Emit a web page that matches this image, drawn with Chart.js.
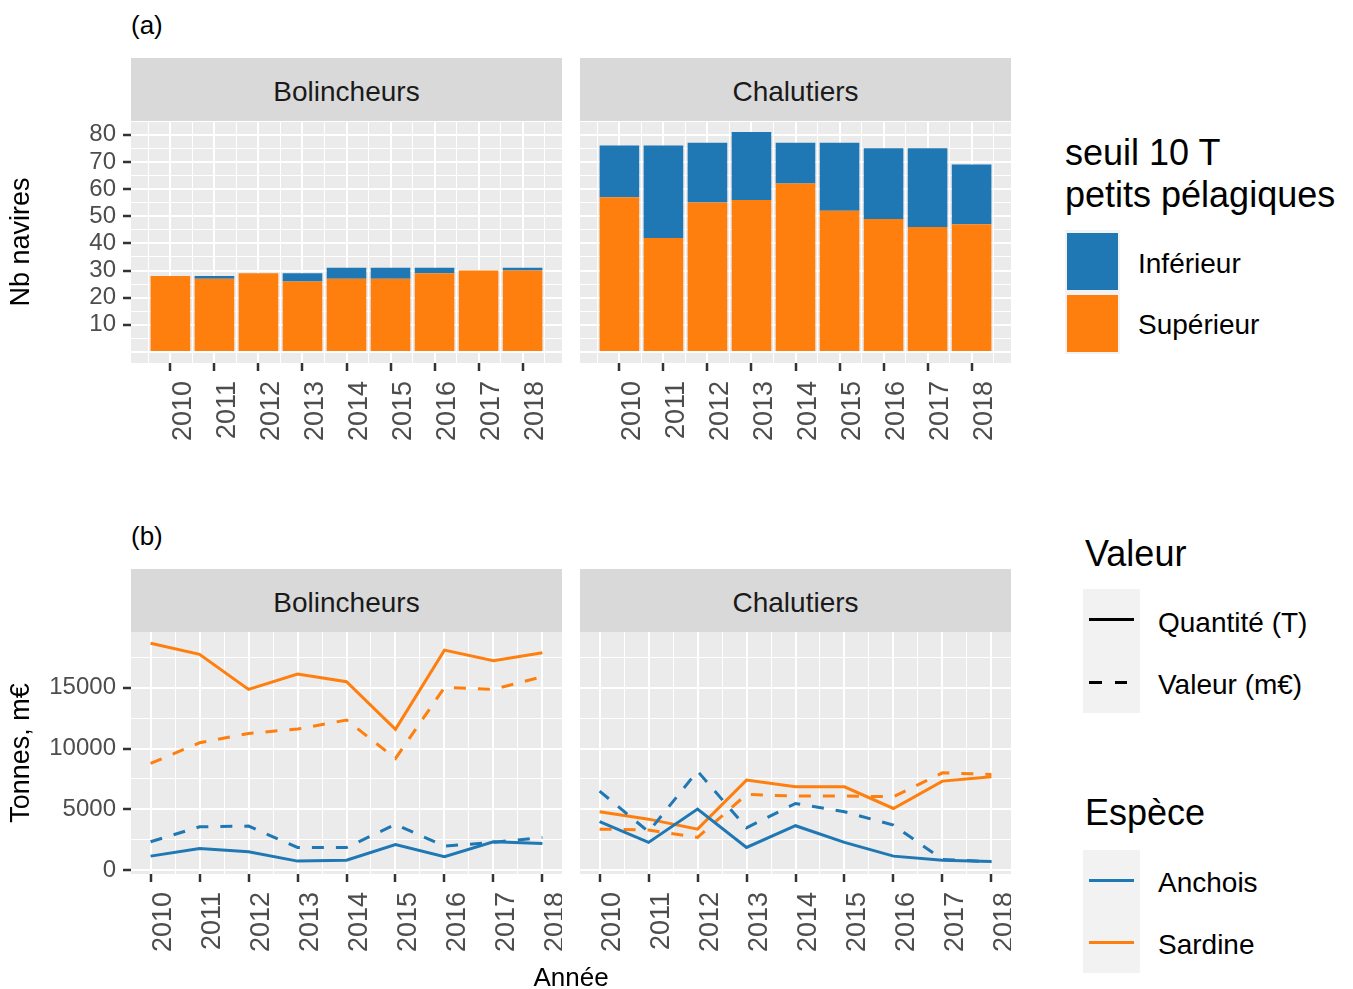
<!DOCTYPE html>
<html><head><meta charset="utf-8">
<script src="https://cdn.jsdelivr.net/npm/chart.js@4/dist/chart.umd.min.js"></script>
<style>
body{margin:0;background:#fff;}
#root{position:relative;width:1353px;height:989px;font-family:"Liberation Sans",Arial,sans-serif;overflow:hidden;background:#fff;}
.abs{position:absolute;white-space:nowrap;}
.strip{position:absolute;background:#D9D9D9;color:#1A1A1A;font-size:28px;display:flex;align-items:center;justify-content:center;box-sizing:border-box;padding-top:5px;}
canvas{position:absolute;}
.lab{position:absolute;font-size:28px;line-height:28px;color:#000;white-space:nowrap;}
.ttl{position:absolute;font-size:36px;line-height:42px;color:#000;white-space:nowrap;}
</style></head><body><div id="root">
<div class="abs" style="left:131px;top:12px;font-size:26px;line-height:26px;color:#000">(a)</div>
<div class="abs" style="left:131px;top:523px;font-size:26px;line-height:26px;color:#000">(b)</div>
<div class="strip" style="left:131px;top:58px;width:431px;height:63px">Bolincheurs</div>
<div class="strip" style="left:580px;top:58px;width:431px;height:63px">Chalutiers</div>
<div class="strip" style="left:131px;top:569px;width:431px;height:63px">Bolincheurs</div>
<div class="strip" style="left:580px;top:569px;width:431px;height:63px">Chalutiers</div>
<canvas id="cA" width="562" height="330" style="left:0;top:121px"></canvas>
<canvas id="cB" width="431" height="330" style="left:580px;top:121px"></canvas>
<canvas id="cC" width="562" height="357" style="left:0;top:632px"></canvas>
<canvas id="cD" width="431" height="357" style="left:580px;top:632px"></canvas>
<div class="abs" style="left:545px;top:964px;width:52px;text-align:center;font-size:26px;line-height:26px;color:#000;display:flex;justify-content:center">Année</div>

<div class="ttl" style="left:1065px;top:132px">seuil 10 T<br>petits pélagiques</div>
<div class="abs" style="left:1065px;top:230px;width:55px;height:124px;background:#F2F2F2"></div>
<div class="abs" style="left:1067px;top:232.5px;width:51px;height:57px;background:#1F77B4"></div>
<div class="abs" style="left:1067px;top:294.5px;width:51px;height:57px;background:#FF7F0E"></div>
<div class="lab" style="left:1138px;top:250px">Inférieur</div>
<div class="lab" style="left:1138px;top:311px">Supérieur</div>

<div class="ttl" style="left:1085px;top:533px">Valeur</div>
<div class="abs" style="left:1083px;top:589px;width:57px;height:124px;background:#F2F2F2"></div>
<div class="abs" style="left:1089px;top:618px;width:45px;height:3px;background:#000"></div>
<div class="abs" style="left:1089px;top:681px;width:12.5px;height:3px;background:#000"></div>
<div class="abs" style="left:1114.5px;top:681px;width:12.5px;height:3px;background:#000"></div>
<div class="lab" style="left:1158px;top:609px">Quantité (T)</div>
<div class="lab" style="left:1158px;top:671px">Valeur (m€)</div>

<div class="ttl" style="left:1085px;top:792px">Espèce</div>
<div class="abs" style="left:1083px;top:850px;width:57px;height:123px;background:#F2F2F2"></div>
<div class="abs" style="left:1089px;top:879px;width:45px;height:3px;background:#1F77B4"></div>
<div class="abs" style="left:1089px;top:941px;width:45px;height:3px;background:#FF7F0E"></div>
<div class="lab" style="left:1158px;top:869px">Anchois</div>
<div class="lab" style="left:1158px;top:931px">Sardine</div>
</div>
<script>
// ---------- data ----------
const years = [2010, 2011, 2012, 2013, 2014, 2015, 2016, 2017, 2018];
const navireTickLabels = [10, 20, 30, 40, 50, 60, 70, 80];
const tonnesTickLabels = [0, 5000, 10000, 15000];

const bolSuperieur = [28, 27, 29, 26, 27, 27, 29, 30, 30];
const bolInferieur = [0, 1, 0, 3, 4, 4, 2, 0, 1];
const chaSuperieur = [57, 42, 55, 56, 62, 52, 49, 46, 47];
const chaInferieur = [19, 34, 22, 25, 15, 25, 26, 29, 22];

const bolAnchoisQuantite = [1150, 1780, 1510, 740, 820, 2110, 1100, 2330, 2190];
const bolAnchoisValeur   = [2330, 3560, 3620, 1860, 1860, 3760, 1970, 2280, 2690];
const bolSardineQuantite = [18650, 17740, 14860, 16120, 15490, 11570, 18090, 17220, 17870];
const bolSardineValeur   = [8770, 10470, 11240, 11600, 12340, 9180, 15020, 14860, 15900];
const chaAnchoisQuantite = [3980, 2280, 5020, 1860, 3650, 2280, 1150, 820, 700];
const chaAnchoisValeur   = [6500, 3150, 8140, 3480, 5480, 4800, 3700, 880, 690];
const chaSardineQuantite = [4800, 4190, 3370, 7400, 6850, 6850, 5070, 7320, 7680];
const chaSardineValeur   = [3370, 3290, 2690, 6220, 6090, 6090, 6030, 8000, 7870];

// ---------- style ----------
const FONT = '"Liberation Sans", Arial, sans-serif';
const BLUE = '#1F77B4', ORANGE = '#FF7F0E';
const TICKCOL = '#333333', TICKLAB = '#4D4D4D';
Chart.defaults.font.family = FONT;

const panelBg = {
  id: 'panelBg',
  beforeDraw(chart) {
    const {ctx, chartArea: a} = chart;
    ctx.save(); ctx.fillStyle = '#EBEBEB';
    ctx.fillRect(a.left, a.top, a.width, a.height);
    ctx.restore();
  }
};

function withMinor(majors, lo, hi) {
  const step = (majors[1] - majors[0]) / 2;
  const out = [];
  for (let v = majors[0] - 4 * step; v <= majors[majors.length - 1] + 4 * step; v += step) {
    if (v >= lo && v <= hi) out.push(v);
  }
  return out;
}

function fixSize(prop, size) {
  return s => { s[prop] = size; s.paddingTop = 0; s.paddingBottom = 0; s.paddingLeft = 0; s.paddingRight = 0; };
}

function xScale(min, max, height) {
  const isMaj = v => years.includes(v);
  return {
    type: 'linear', min, max, offset: false, stacked: true,
    afterBuildTicks: s => { s.ticks = withMinor(years, min, max).map(v => ({value: v})); },
    afterFit: fixSize('height', height),
    border: {display: false},
    grid: {
      offset: false, color: '#FFFFFF', drawTicks: true, tickLength: 8,
      lineWidth: c => (c.tick && isMaj(c.tick.value)) ? 2 : 1,
      tickColor: c => (c.tick && isMaj(c.tick.value)) ? TICKCOL : 'rgba(0,0,0,0)',
      tickWidth: 2.5
    },
    ticks: {
      autoSkip: false, minRotation: 90, maxRotation: 90, padding: 10, labelOffset: 13,
      color: TICKLAB, font: {family: FONT, size: 27},
      callback: v => isMaj(v) ? String(v) : ''
    }
  };
}

function yScale(min, max, majors, labels, width, showLabels, title, stacked) {
  const isMaj = v => majors.includes(v);
  return {
    type: 'linear', min, max, position: 'left', stacked: stacked,
    afterBuildTicks: s => { s.ticks = withMinor(majors, min, max).map(v => ({value: v})); },
    afterFit: fixSize('width', width),
    border: {display: false},
    grid: {
      color: '#FFFFFF', drawTicks: showLabels, tickLength: 8,
      lineWidth: c => (c.tick && isMaj(c.tick.value)) ? 2 : 1,
      tickColor: c => (c.tick && labels.includes(c.tick.value)) ? TICKCOL : 'rgba(0,0,0,0)',
      tickWidth: 2.5
    },
    ticks: {
      display: showLabels, autoSkip: false, padding: 7,
      color: TICKLAB, font: {family: FONT, size: 24},
      callback: v => labels.includes(v) ? String(v) : ''
    },
    title: {
      display: !!title, text: title || '', color: '#000000',
      font: {family: FONT, size: 27}, padding: {top: 5, bottom: 4}
    }
  };
}

const baseOpts = {
  responsive: false, animation: false, devicePixelRatio: 1,
  layout: {padding: 0},
  plugins: {legend: {display: false}, tooltip: {enabled: false}, title: {display: false}}
};

// bar width: Chart.js measures the smallest pixel gap among data and ticks (half-year ticks),
// so 1.8 × half a year = 0.9 year wide bars, as in the reference
function barChart(id, sup, inf, yWidth, showLabels, title) {
  new Chart(document.getElementById(id), {
    type: 'bar',
    data: {
      datasets: [
        {label: 'Supérieur', data: years.map((y, i) => ({x: y, y: sup[i]})), backgroundColor: ORANGE,
         borderWidth: 0, barPercentage: 1.8, categoryPercentage: 1.0},
        {label: 'Inférieur', data: years.map((y, i) => ({x: y, y: inf[i]})), backgroundColor: BLUE,
         borderWidth: 0, barPercentage: 1.8, categoryPercentage: 1.0}
      ]
    },
    options: Object.assign({}, baseOpts, {
      scales: {
        x: xScale(2009.105, 2018.895, 88),
        y: yScale(-4.05, 85.05, [0, 10, 20, 30, 40, 50, 60, 70, 80], navireTickLabels, yWidth, showLabels, title, true)
      }
    }),
    plugins: [panelBg]
  });
}

function lineChart(id, aq, av, sq, sv, yWidth, showLabels, title) {
  const mk = (label, arr, color, dashed) => ({
    label, data: years.map((y, i) => ({x: y, y: arr[i]})), borderColor: color, backgroundColor: color,
    borderWidth: 3, pointRadius: 0, tension: 0, fill: false, borderDash: dashed ? [12, 12] : []
  });
  new Chart(document.getElementById(id), {
    type: 'line',
    data: {
      datasets: [
        mk('Anchois Quantité (T)', aq, BLUE, false),
        mk('Anchois Valeur (m€)', av, BLUE, true),
        mk('Sardine Quantité (T)', sq, ORANGE, false),
        mk('Sardine Valeur (m€)', sv, ORANGE, true)
      ]
    },
    options: Object.assign({}, baseOpts, {
      scales: {
        x: xScale(2009.6, 2018.4, 115),
        y: yScale(-320, 19580, tonnesTickLabels, tonnesTickLabels, yWidth, showLabels, title, false)
      }
    }),
    plugins: [panelBg]
  });
}

barChart('cA', bolSuperieur, bolInferieur, 131, true, 'Nb navires');
barChart('cB', chaSuperieur, chaInferieur, 0, false, '');
lineChart('cC', bolAnchoisQuantite, bolAnchoisValeur, bolSardineQuantite, bolSardineValeur, 131, true, 'Tonnes, m€');
lineChart('cD', chaAnchoisQuantite, chaAnchoisValeur, chaSardineQuantite, chaSardineValeur, 0, false, '');
</script>
</body></html>
